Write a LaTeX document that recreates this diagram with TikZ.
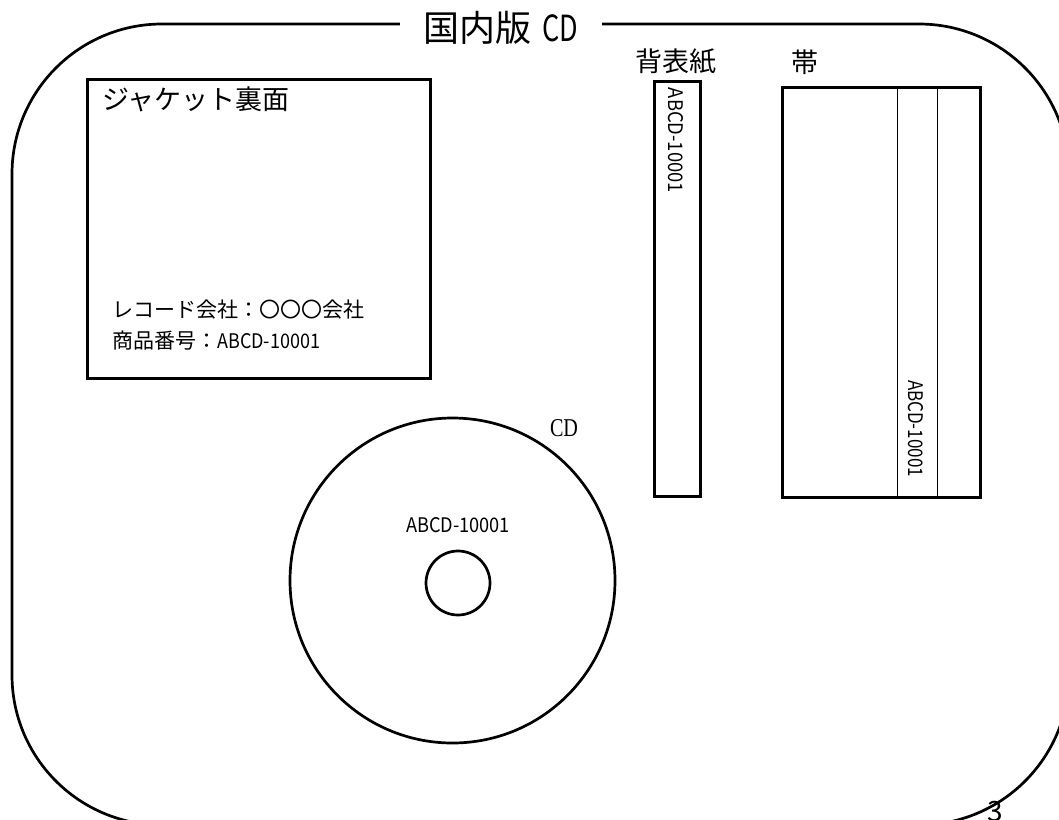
\documentclass[tikz,border=0pt]{standalone}
\usepackage{fontspec}
\usepackage{graphicx}
\setmainfont{Noto Sans CJK JP}
\newfontfamily\seriflat{Liberation Serif}
\newcommand\prodcode[2]{\resizebox{#1}{#2}{ABCD-10001}}
\begin{document}
\begin{tikzpicture}[x=1pt,y=-1pt,
  thickline/.style={line width=2.7pt},
  thinline/.style={line width=1pt},
  boxshape/.style={draw, thickline, rectangle, inner sep=0pt, anchor=north west},
  lbl/.style={inner sep=0pt, text=black}]
\useasboundingbox[fill=white] (0,0) rectangle (1059,819);
% outer rounded frame
\draw[thickline, rounded corners=150pt] (12,24) rectangle (1069,825);
\node[lbl, fill=white, minimum width=202pt, minimum height=40pt] (title) at (501,28)
  {\fontsize{36pt}{36pt}\selectfont 国内版\hspace{11pt}\scalebox{0.75}[1]{CD}};
% jacket back
\node[boxshape, minimum width=343pt, minimum height=299pt] (jacket) at (86,78) {};
\node[lbl, anchor=west] (jtitle) at (102,99) {\fontsize{27pt}{27pt}\selectfont ジャケット裏面};
\node[lbl, anchor=west] (jline1) at (112,310) {\fontsize{21pt}{21pt}\selectfont レコード会社：〇〇〇会社};
\node[lbl, anchor=west] (jline2) at (112,340.5) {\fontsize{21pt}{21pt}\selectfont 商品番号：\prodcode{103pt}{15pt}};
% spine
\node[lbl] (spinelbl) at (676,62) {\fontsize{27pt}{27pt}\selectfont 背表紙};
\node[boxshape, minimum width=46pt, minimum height=415pt] (spine) at (653,80) {};
\node[lbl, rotate=-90] (spinecode) at (676,140.5) {\prodcode{105pt}{15pt}};
% obi
\node[lbl] (obilbl) at (805,62) {\fontsize{27pt}{27pt}\selectfont 帯};
\node[boxshape, minimum width=198pt, minimum height=410pt] (obi) at (781,86) {};
\draw[thinline] (897,86) -- (897,496);
\draw[thinline] (937,86) -- (937,496);
\node[lbl, rotate=-90] (obicode) at (915.5,428.5) {\prodcode{97pt}{15pt}};
% disc
\node[draw, thickline, circle, inner sep=0pt, minimum size=325pt] (disc) at (452.5,580.5) {};
\node[draw, thickline, circle, inner sep=0pt, minimum size=64pt] (hole) at (458,583) {};
\node[lbl] (disccode) at (458,525.5) {\prodcode{104pt}{15pt}};
\node[lbl] (disclbl) at (564,428.5) {\seriflat\resizebox{28pt}{17pt}{CD}};
% page number
\node[lbl, anchor=north] (pagenum) at (995,801) {\fontsize{28pt}{28pt}\selectfont 3};
\end{tikzpicture}
\end{document}
